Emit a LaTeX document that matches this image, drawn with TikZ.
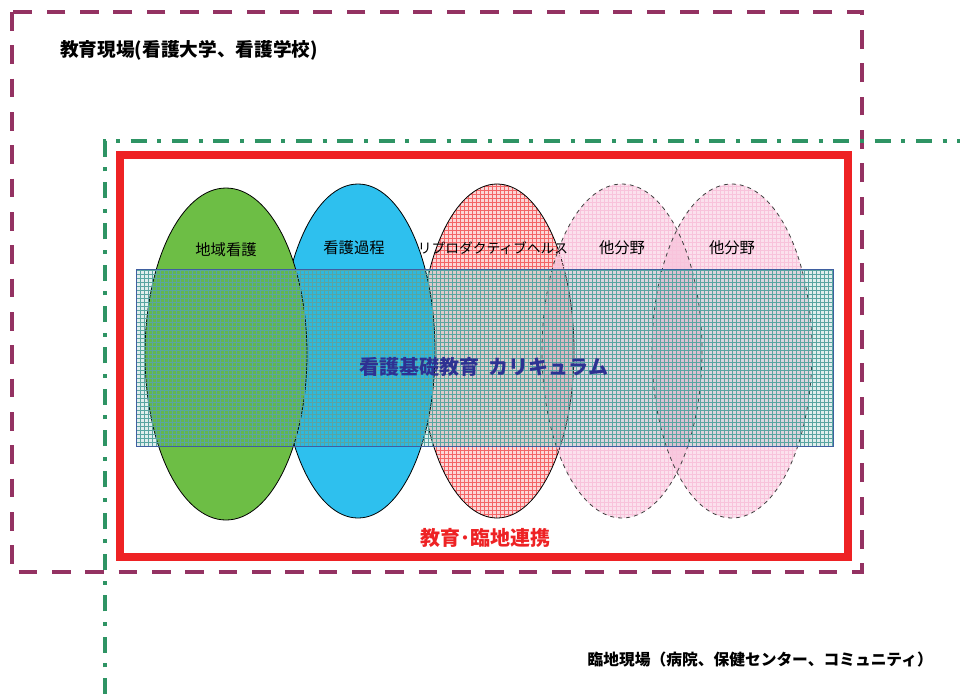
\documentclass[tikz,border=0pt]{standalone}
\usepackage{fontspec}
\newfontfamily\jp{Noto Sans CJK JP}
\usetikzlibrary{patterns}
\definecolor{purp}{HTML}{943262}
\definecolor{grn}{HTML}{2E9464}
\definecolor{redb}{HTML}{EE2224}
\definecolor{ellgreen}{HTML}{6DBE45}
\definecolor{ellblue}{HTML}{2EC0EE}
\definecolor{ellred}{HTML}{FBD6D6}
\definecolor{ellpink}{HTML}{F07AB0}
\definecolor{rectteal}{HTML}{2F8F8A}
\definecolor{rectline}{HTML}{3F5FA0}
\definecolor{titleblue}{HTML}{2E3192}
\tikzset{
  lbl/.style={font=\jp\fontsize{11.5}{13}\selectfont, inner sep=0pt},
}
\begin{document}
\begin{tikzpicture}[x=0.75pt,y=-0.75pt]
\useasboundingbox (0,0) rectangle (960,694);
\fill[white] (0,0) rectangle (960,694);
% outer frames
\draw[purp, line width=3.5pt, dash pattern=on 14pt off 11pt] (12,12) rectangle (862,572);
\draw[grn, line width=3.2pt, dash pattern=on 12pt off 8pt on 3pt off 8pt] (105,694) -- (105,141) -- (960,141);
% red frame
\draw[redb, line width=5.5pt] (120,155) rectangle (848,557);
% ellipses
\coordinate (cg) at (226,354);
\coordinate (cb) at (358,351);
\coordinate (cr) at (497,351);
\coordinate (cp1) at (622,351);
\coordinate (cp2) at (732,351);
\fill[ellred, postaction={pattern=grid, pattern color=redb!70}] (cr) ellipse [x radius=77, y radius=167];
\draw[black, line width=0.6pt] (cr) ellipse [x radius=77, y radius=167];
\filldraw[fill=ellblue, draw=black, line width=0.6pt] (cb) ellipse [x radius=77, y radius=167];
\filldraw[fill=ellgreen, draw=black, line width=0.6pt] (cg) ellipse [x radius=81, y radius=166];
\fill[ellpink, fill opacity=0.22] (cp1) ellipse [x radius=80, y radius=167];
\path[pattern=grid, pattern color=ellpink!45] (cp1) ellipse [x radius=80, y radius=167];
\fill[ellpink, fill opacity=0.22] (cp2) ellipse [x radius=80, y radius=167];
\path[pattern=grid, pattern color=ellpink!45] (cp2) ellipse [x radius=80, y radius=167];
\draw[black!75, line width=0.6pt, dashed] (cp1) ellipse [x radius=80, y radius=167];
\draw[black!75, line width=0.6pt, dashed] (cp2) ellipse [x radius=80, y radius=167];
% curriculum band
\fill[rectteal, fill opacity=0.15] (136,269) rectangle (833,446);
\path[pattern=grid, pattern color=rectteal!80] (136,269) rectangle (833,446);
\draw[rectline, line width=0.6pt] (136,269) rectangle (833,446);
% labels
\node[lbl] (l1) at (226,250) {地域看護};
\node[lbl] (l2) at (354,248) {看護過程};
\node[lbl, font=\jp\fontsize{10.3}{12}\selectfont] (l3) at (493,248) {リプロダクティブヘルス};
\node[lbl] (l4) at (622,248) {他分野};
\node[lbl] (l5) at (732,248) {他分野};
\node[inner sep=0pt, text=titleblue, font=\jp\bfseries\fontsize{15}{18}\selectfont] (title) at (484,367) {看護基礎教育\ \ カリキュラム};
\node[inner sep=0pt, text=redb, font=\jp\bfseries\fontsize{15}{18}\selectfont] (coop) at (485,538) {教育･臨地連携};
\node[inner sep=0pt, anchor=west, font=\jp\bfseries\fontsize{14}{16}\selectfont] (edu) at (60,50) {教育現場(看護大学、看護学校)};
\node[inner sep=0pt, anchor=east, font=\jp\bfseries\fontsize{11.8}{14}\selectfont] (clin) at (933,660) {臨地現場（病院、保健センター、コミュニティ）};
\end{tikzpicture}
\end{document}
